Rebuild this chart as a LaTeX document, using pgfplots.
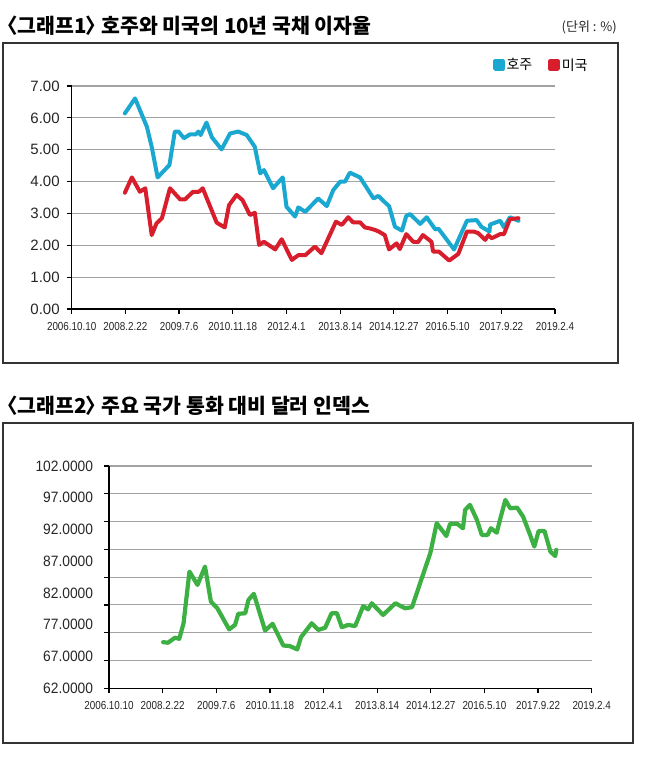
\documentclass[border=0pt]{standalone}
\usepackage{pgfplots}
\pgfplotsset{compat=1.18}
\usepackage{pgfplotstable}
\usepackage{fontspec}
\setmainfont{Liberation Sans}
\newfontfamily\kr{Noto Sans CJK KR}
\newfontfamily\krt[RawFeature=+palt]{Noto Sans CJK KR}
\newfontfamily\num[FakeStretch=0.85]{Liberation Sans}
\newfontfamily\numb[FakeStretch=0.92]{Liberation Sans}
\definecolor{aublue}{HTML}{1AA8D0}
\definecolor{usred}{HTML}{D81E2C}
\definecolor{dgreen}{HTML}{3CB043}
\definecolor{gridc}{HTML}{A3A3A3}
\definecolor{framec}{HTML}{333333}

\pgfplotstableread{
t v
0.99 6.14
1.18 6.61
1.40 5.72
1.49 5.09
1.60 4.13
1.82 4.52
1.92 5.57
1.99 5.57
2.09 5.36
2.20 5.48
2.31 5.48
2.36 5.57
2.40 5.46
2.51 5.85
2.61 5.39
2.79 5.01
2.95 5.51
3.10 5.57
3.26 5.46
3.41 5.09
3.51 4.26
3.58 4.36
3.75 3.79
3.93 4.13
4.00 3.21
4.16 2.90
4.22 3.19
4.35 3.05
4.59 3.47
4.75 3.23
4.87 3.73
5.00 4.00
5.09 4.00
5.18 4.28
5.37 4.13
5.62 3.47
5.71 3.55
5.80 3.40
5.91 3.23
6.02 2.58
6.15 2.46
6.23 2.92
6.30 2.98
6.49 2.67
6.61 2.88
6.77 2.50
6.83 2.52
7.12 1.87
7.36 2.77
7.54 2.79
7.63 2.58
7.78 2.43
7.79 2.65
7.98 2.77
8.05 2.56
8.16 2.88
8.32 2.77
}\aus

\pgfplotstableread{
t v
0.99 3.65
1.12 4.13
1.27 3.68
1.37 3.79
1.49 2.32
1.58 2.69
1.68 2.85
1.83 3.79
2.02 3.44
2.11 3.44
2.26 3.68
2.37 3.68
2.44 3.79
2.70 2.71
2.85 2.56
2.93 3.26
3.07 3.58
3.18 3.42
3.32 2.95
3.41 3.02
3.49 2.01
3.58 2.11
3.79 1.87
3.91 2.19
4.10 1.54
4.22 1.69
4.35 1.69
4.53 1.96
4.65 1.75
4.92 2.74
5.03 2.64
5.15 2.88
5.24 2.72
5.37 2.72
5.46 2.56
5.55 2.53
5.65 2.48
5.72 2.43
5.83 2.32
5.91 1.87
6.05 2.06
6.11 1.88
6.23 2.35
6.36 2.11
6.45 2.10
6.54 2.32
6.70 2.11
6.73 1.80
6.84 1.80
7.03 1.52
7.20 1.73
7.36 2.43
7.49 2.43
7.57 2.38
7.70 2.17
7.76 2.32
7.82 2.22
7.98 2.35
8.05 2.35
8.16 2.82
8.32 2.85
}\usa

\pgfplotstableread{
t v
1.01 70.3
1.10 70.2
1.23 71.1
1.31 70.9
1.39 73.7
1.50 83.0
1.65 80.6
1.79 83.9
1.90 77.6
2.02 76.4
2.24 72.6
2.35 73.4
2.41 75.4
2.54 75.5
2.60 77.9
2.70 79.0
2.91 72.4
3.05 73.6
3.25 69.7
3.37 69.6
3.51 69.0
3.58 71.2
3.78 73.7
3.90 72.5
4.03 72.9
4.15 75.5
4.25 75.5
4.34 73.0
4.46 73.4
4.59 73.2
4.74 76.8
4.83 76.2
4.90 77.3
5.11 75.2
5.34 77.3
5.52 76.4
5.65 76.6
5.80 80.9
5.99 86.3
6.11 91.7
6.29 89.4
6.36 91.6
6.49 91.6
6.60 90.8
6.64 94.1
6.73 95.0
6.86 92.3
6.95 89.6
7.06 89.6
7.12 90.8
7.23 90.0
7.29 92.3
7.39 95.9
7.48 94.4
7.61 94.5
7.72 92.9
7.84 89.9
7.93 87.5
8.01 90.3
8.12 90.3
8.23 86.6
8.32 85.8
8.34 86.9
}\dxy

\pgfplotsset{
  mybase/.style={
    scale only axis, clip=false,
    axis lines=left, axis line style={-, line width=1.4pt, black},
    xmin=0, xmax=9, xtick={0,...,9},
    xticklabels={2006.10.10,2008.2.22,2009.7.6,2010.11.18,2012.4.1,2013.8.14,2014.12.27,2016.5.10,2017.9.22,2019.2.4},
    tick align=outside, major tick length=5pt,
    tick style={line width=1.2pt, black},
    xticklabel style={font=\num\fontsize{11.6}{12}\selectfont, text=black!85, yshift=-5pt},
    ymajorgrids, grid style={line width=1.1pt, gridc},
  },
}

\newcommand\ttlfont{\krt\bfseries\fontsize{20.5}{23}\selectfont}

\begin{document}
\begin{tikzpicture}[x=1pt,y=1pt]
\fill[white] (0,0) rectangle (650,757);
\useasboundingbox (0,0) rectangle (650,757);

% ---------- chart 1 ----------
\node[anchor=west, inner sep=0pt, font=\ttlfont] at (7,731) {〈그래프1〉 호주와 미국의 10년 국채 이자율};
\node[anchor=east, inner sep=0pt, font=\kr\fontsize{13}{15}\selectfont, text=black!85] at (617,730) {(단위 : \%)};
\draw[framec, line width=2pt] (3,394) rectangle (618,714);

\begin{axis}[mybase,
  at={(71.7pt,448pt)}, anchor=south west,
  width=483.3pt, height=223pt,
  ymin=0, ymax=7, ytick={0,...,7},
  yticklabels={0.00,1.00,2.00,3.00,4.00,5.00,6.00,7.00},
  yticklabel style={font=\fontsize{15}{16}\selectfont, text=black!85, xshift=-3.5pt},
  legend columns=2,
  legend style={at={(1.072,1.094)}, anchor=east, draw=none, fill=none,
    font=\kr\fontsize{14}{16}\selectfont, inner sep=0pt,
    /tikz/every even column/.append style={column sep=14pt}},
  legend image code/.code={\fill[#1] (0pt,-3.8pt) rectangle (7.5pt,3.7pt);},
  legend cell align=left,
]
\addplot[aublue, line width=4pt, line join=round, line cap=round] table[x=t,y=v] {\aus};
\addlegendentry{호주}
\addplot[usred, line width=4pt, line join=round, line cap=round] table[x=t,y=v] {\usa};
\addlegendentry{미국}
\end{axis}

% ---------- chart 2 ----------
\node[anchor=west, inner sep=0pt, font=\ttlfont] at (7,351) {〈그래프2〉 주요 국가 통화 대비 달러 인덱스};
\draw[framec, line width=2pt] (3,14) rectangle (633,334);

\begin{axis}[mybase,
  at={(109pt,68.7pt)}, anchor=south west,
  width=482.7pt, height=222.3pt,
  ymin=62, ymax=102, ytick={62,67,...,102},
  yticklabels={\mbox{},\mbox{},\mbox{},\mbox{},\mbox{},\mbox{},\mbox{},\mbox{},\mbox{}},
  extra y ticks={62,67.714,73.429,79.143,84.857,90.571,96.286,102},
  extra y tick labels={62.0000,67.0000,77.0000,82.0000,87.0000,92.0000,97.0000,102.0000},
  extra y tick style={grid=none, tick style={draw=none},
    yticklabel style={font=\numb\fontsize{15}{16}\selectfont, text=black!85}},
  yticklabel style={xshift=-7.4pt},
]
\addplot[dgreen, line width=4.2pt, line join=round, line cap=round] table[x=t,y=v] {\dxy};
\end{axis}
\end{tikzpicture}
\end{document}
